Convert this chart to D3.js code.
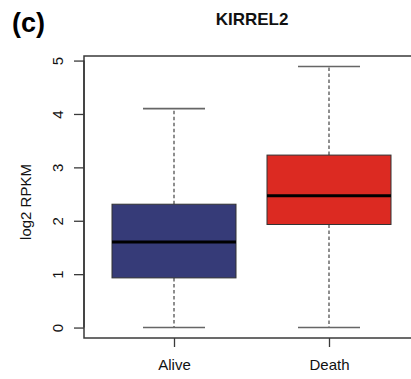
<!DOCTYPE html>
<html>
<head>
<meta charset="utf-8">
<script src="https://cdn.jsdelivr.net/npm/d3@7"></script>
<style>
  html, body { margin: 0; padding: 0; background: #fff; }
  svg { display: block; font-family: "Liberation Sans", Arial, sans-serif; }
</style>
</head>
<body>
<svg id="chart" width="411" height="379"></svg>
<script>
// Groups and five-number summaries of KIRREL2 expression
const groups   = ["Alive", "Death"];
const whiskLo  = [0.00, 0.00];
const q1       = [0.93, 1.93];
const median   = [1.60, 2.47];
const q3       = [2.31, 3.23];
const whiskHi  = [4.10, 4.89];
const colors   = ["#363b78", "#dc2a22"];
const yTicks   = [0, 1, 2, 3, 4, 5];

const svg = d3.select("#chart");

// Plot region
const frame = { left: 84, right: 419, top: 56, bottom: 338 };

// y range padded 4% beyond the data, as in base R
const yMin = d3.min(whiskLo), yMax = d3.max(whiskHi);
const pad = (yMax - yMin) * 0.04;
const y = d3.scaleLinear().domain([yMin - pad, yMax + pad]).range([frame.bottom, frame.top]);

// group positions 1..n on a linear x scale
const x = d3.scaleLinear().domain([1, 2]).range([174, 329]);
const boxW = x(1.8) - x(1.0);   // box width 0.8 units
const capW = boxW / 2;

const data = groups.map((g, i) => ({
  g, i: i + 1, lo: whiskLo[i], q1: q1[i], med: median[i], q3: q3[i], hi: whiskHi[i], c: colors[i]
}));

const plot = svg.append("g");

// whiskers (dashed)
plot.selectAll(".whisk-up").data(data).join("line")
  .attr("x1", d => x(d.i)).attr("x2", d => x(d.i))
  .attr("y1", d => y(d.q3)).attr("y2", d => y(d.hi))
  .attr("stroke", "#444").attr("stroke-width", 1.2).attr("stroke-dasharray", "3.5,2.5");
plot.selectAll(".whisk-dn").data(data).join("line")
  .attr("x1", d => x(d.i)).attr("x2", d => x(d.i))
  .attr("y1", d => y(d.q1)).attr("y2", d => y(d.lo))
  .attr("stroke", "#444").attr("stroke-width", 1.2).attr("stroke-dasharray", "3.5,2.5");

// whisker caps
["lo", "hi"].forEach(k => {
  plot.selectAll(".cap-" + k).data(data).join("line")
    .attr("x1", d => x(d.i) - capW / 2).attr("x2", d => x(d.i) + capW / 2)
    .attr("y1", d => y(d[k])).attr("y2", d => y(d[k]))
    .attr("stroke", "#666").attr("stroke-width", 1.6);
});

// boxes
plot.selectAll(".box").data(data).join("rect")
  .attr("x", d => x(d.i) - boxW / 2).attr("width", boxW)
  .attr("y", d => y(d.q3)).attr("height", d => y(d.q1) - y(d.q3))
  .attr("fill", d => d.c).attr("stroke", "#333").attr("stroke-width", 1);

// medians
plot.selectAll(".med").data(data).join("line")
  .attr("x1", d => x(d.i) - boxW / 2).attr("x2", d => x(d.i) + boxW / 2)
  .attr("y1", d => y(d.med)).attr("y2", d => y(d.med))
  .attr("stroke", "#000").attr("stroke-width", 3);

// frame (left, top, bottom; right side runs past the page edge)
svg.append("rect")
  .attr("x", frame.left).attr("y", frame.top)
  .attr("width", frame.right - frame.left).attr("height", frame.bottom - frame.top)
  .attr("fill", "none").attr("stroke", "#3a3a3a").attr("stroke-width", 1.5);

// y axis
const yAxis = d3.axisLeft(y).tickValues(yTicks).tickSize(10).tickPadding(12).tickFormat(d3.format("d"));
const gy = svg.append("g").attr("transform", `translate(${frame.left},0)`).call(yAxis);
gy.select(".domain")
  .attr("d", `M0,${y(yTicks[0])}V${y(yTicks[yTicks.length - 1])}`)
  .attr("stroke", "#3a3a3a").attr("stroke-width", 1.5);
gy.selectAll(".tick line").attr("stroke", "#3a3a3a").attr("stroke-width", 1.3);
gy.selectAll(".tick text")
  .attr("font-size", 15).attr("fill", "#111")
  .attr("font-family", "Liberation Sans, Arial, sans-serif")
  .attr("text-anchor", "middle").attr("dy", null)
  .attr("transform", "translate(-27,0) rotate(-90)")
  .attr("x", 0).attr("y", 0).attr("dominant-baseline", "central");

// x axis
const xAxis = d3.axisBottom(x).tickValues([1, 2]).tickSize(9).tickPadding(12)
  .tickFormat(d => groups[d - 1]);
const gx = svg.append("g").attr("transform", `translate(0,${frame.bottom})`).call(xAxis);
gx.select(".domain").remove();
gx.selectAll(".tick line").attr("stroke", "#3a3a3a").attr("stroke-width", 1.3);
gx.selectAll(".tick text")
  .attr("font-size", 15).attr("fill", "#111")
  .attr("font-family", "Liberation Sans, Arial, sans-serif");

// axis title
svg.append("text")
  .attr("transform", `translate(31,${(frame.top + frame.bottom) / 2 + 5}) rotate(-90)`)
  .attr("text-anchor", "middle")
  .attr("font-size", 15).attr("fill", "#111")
  .text("log2 RPKM");

// main title
svg.append("text")
  .attr("x", 252).attr("y", 25)
  .attr("text-anchor", "middle")
  .attr("font-size", 17).attr("font-weight", "bold").attr("fill", "#111")
  .text("KIRREL2");

// panel label
svg.append("text")
  .attr("x", 12).attr("y", 32)
  .attr("font-size", 27).attr("font-weight", "bold").attr("fill", "#000")
  .text("(c)");
</script>
</body>
</html>
